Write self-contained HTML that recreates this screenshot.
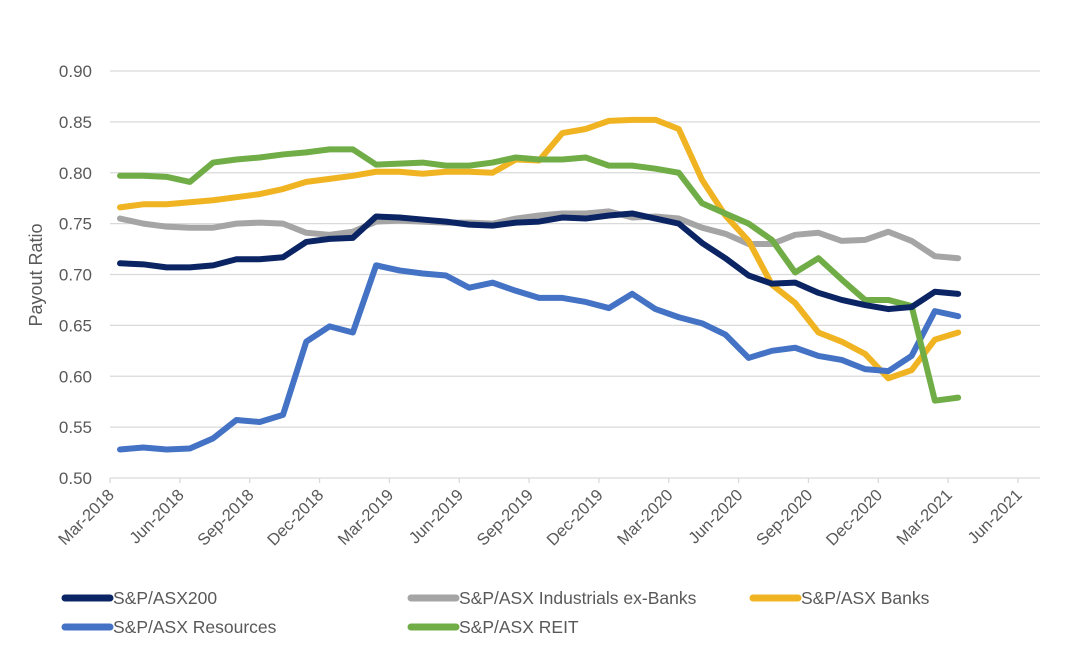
<!DOCTYPE html>
<html><head><meta charset="utf-8"><style>
body{margin:0;background:#fff;}
svg{display:block;font-family:"Liberation Sans",Arial,sans-serif;}
</style></head><body>
<svg id="chart" width="1084" height="668"></svg>
<script>
const yTicks=[0.50,0.55,0.60,0.65,0.70,0.75,0.80,0.85,0.90];
const xTickLabels=["Mar-2018","Jun-2018","Sep-2018","Dec-2018","Mar-2019","Jun-2019","Sep-2019","Dec-2019","Mar-2020","Jun-2020","Sep-2020","Dec-2020","Mar-2021","Jun-2021"];
const asx200=[0.711,0.710,0.707,0.707,0.709,0.715,0.715,0.717,0.732,0.735,0.736,0.757,0.756,0.754,0.752,0.749,0.748,0.751,0.752,0.756,0.755,0.758,0.760,0.755,0.750,0.731,0.716,0.699,0.691,0.692,0.682,0.675,0.670,0.666,0.668,0.683,0.681];
const industrials=[0.755,0.750,0.747,0.746,0.746,0.750,0.751,0.750,0.741,0.739,0.742,0.752,0.753,0.752,0.751,0.751,0.750,0.755,0.758,0.760,0.760,0.762,0.756,0.757,0.755,0.746,0.740,0.730,0.730,0.739,0.741,0.733,0.734,0.742,0.733,0.718,0.716];
const banks=[0.766,0.769,0.769,0.771,0.773,0.776,0.779,0.784,0.791,0.794,0.797,0.801,0.801,0.799,0.801,0.801,0.800,0.813,0.812,0.839,0.843,0.851,0.852,0.852,0.843,0.793,0.758,0.733,0.690,0.672,0.643,0.634,0.622,0.598,0.606,0.636,0.643];
const resources=[0.528,0.530,0.528,0.529,0.539,0.557,0.555,0.562,0.634,0.649,0.643,0.709,0.704,0.701,0.699,0.687,0.692,0.684,0.677,0.677,0.673,0.667,0.681,0.666,0.658,0.652,0.641,0.618,0.625,0.628,0.620,0.616,0.607,0.605,0.620,0.664,0.659];
const reit=[0.797,0.797,0.796,0.791,0.810,0.813,0.815,0.818,0.820,0.823,0.823,0.808,0.809,0.810,0.807,0.807,0.810,0.815,0.813,0.813,0.815,0.807,0.807,0.804,0.800,0.770,0.760,0.750,0.734,0.702,0.716,0.695,0.675,0.675,0.669,0.576,0.579];

const NS="http://www.w3.org/2000/svg";
const svg=document.getElementById('chart');
const X0=110,X1=1018,Y0=478,Y1=71;
const xm=m=>X0+(X1-X0)*m/39;
const y=v=>Y0-(v-0.5)/0.4*(Y0-Y1);
function mk(t,a){const e=document.createElementNS(NS,t);for(const k in a)e.setAttribute(k,a[k]);svg.appendChild(e);return e;}

yTicks.forEach((v,i)=>{
  if(i>0){const g=mk('line',{x1:X0,x2:X1+22,y1:y(v),y2:y(v),stroke:'#d9d9d9','stroke-width':1.3});
  
  }
  const t=mk('text',{x:92,y:y(v)+6,'text-anchor':'end','font-size':17,fill:'#595959'});
  t.textContent=v.toFixed(2);
  
  
});
const ax=mk('line',{x1:X0,x2:X1+22,y1:Y0,y2:Y0,stroke:'#d9d9d9','stroke-width':1.3});


xTickLabels.forEach((s,k)=>{
  const x=xm(3*k);
  const tk=mk('line',{x1:x,x2:x,y1:Y0,y2:Y0+5,stroke:'#d9d9d9','stroke-width':1.3});
  
  
  const t=mk('text',{x:x+5,y:Y0+18,'text-anchor':'end','font-size':16.5,fill:'#595959',transform:`rotate(-45 ${x+5} ${Y0+18})`});
  t.textContent=s;
  
  
});
const yt=mk('text',{x:42,y:275,'text-anchor':'middle','font-size':18,fill:'#595959',transform:'rotate(-90 42 275)'});
yt.textContent='Payout Ratio';



const series=[
 ['S&P/ASX Industrials ex-Banks',industrials,'#a5a5a5','series-industrials'],
 ['S&P/ASX Banks',banks,'#f0b422','series-banks'],
 ['S&P/ASX Resources',resources,'#4472c4','series-resources'],
 ['S&P/ASX REIT',reit,'#70ad47','series-reit'],
 ['S&P/ASX200',asx200,'#0b2463','series-asx200']];
series.forEach(([n,d,c,id])=>{
  const p=mk('polyline',{points:d.map((v,i)=>xm(i+0.43)+','+y(v)).join(' '),fill:'none',stroke:c,'stroke-width':6,'stroke-linejoin':'round','stroke-linecap':'round'});
  
  
});
const leg=[['S&P/ASX200','#0b2463',62,598],['S&P/ASX Industrials ex-Banks','#a5a5a5',408,598],['S&P/ASX Banks','#f0b422',750,598],['S&P/ASX Resources','#4472c4',62,627],['S&P/ASX REIT','#70ad47',408,627]];
leg.forEach(([n,c,lx,ly])=>{
  const l=mk('line',{x1:lx+3,x2:lx+48,y1:ly,y2:ly,stroke:c,'stroke-width':7,'stroke-linecap':'round'});
  
  
  const t=mk('text',{x:lx+51,y:ly+6,'font-size':17.5,fill:'#595959'});
  t.textContent=n;
  
  
});
</script>
</body></html>
